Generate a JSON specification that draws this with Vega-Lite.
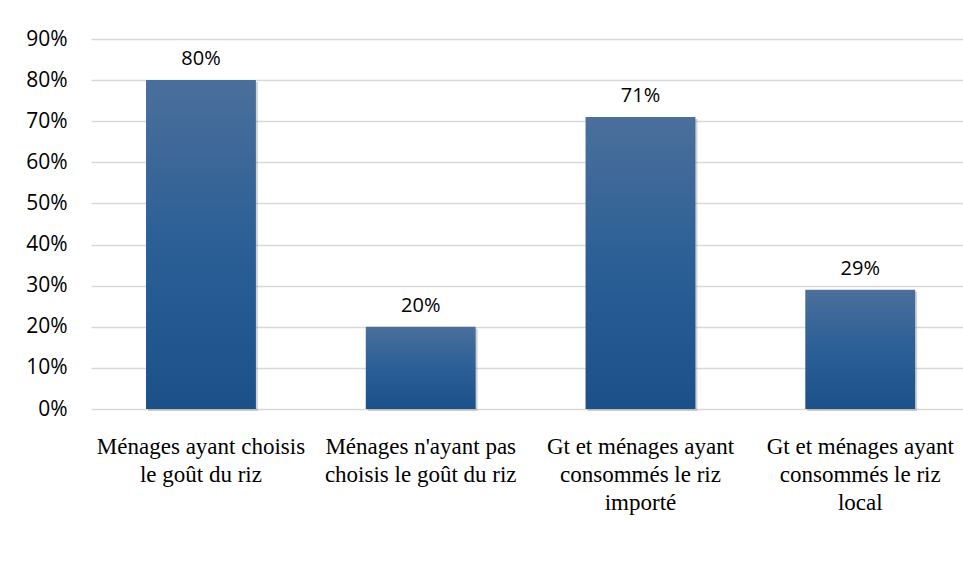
{
  "$schema": "https://vega.github.io/schema/vega-lite/v6.json",
  "autosize": "none",
  "width": 872,
  "height": 370,
  "padding": {"left": 91, "top": 39, "right": 0, "bottom": 169},
  "background": "white",
  "config": {"view": {"stroke": null}},
  "data": {
    "values": [
      {"categorie": "Ménages ayant choisis le goût du riz", "part": 0.80},
      {"categorie": "Ménages n'ayant pas choisis le goût du riz", "part": 0.20},
      {"categorie": "Gt et ménages ayant consommés le riz importé", "part": 0.71},
      {"categorie": "Gt et ménages ayant consommés le riz local", "part": 0.29}
    ]
  },
  "encoding": {
    "x": {
      "field": "categorie",
      "type": "nominal",
      "sort": null,
      "scale": {"paddingInner": 0.5, "paddingOuter": 0.234, "align": 0.535},
      "axis": {
        "title": null,
        "labelAngle": 0,
        "domain": false,
        "ticks": false,
        "labelFont": "Liberation Serif",
        "labelFontSize": 23,
        "labelColor": "#000000",
        "labelLineHeight": 28,
        "labelPadding": 26,
        "labelBaseline": "top",
        "labelLimit": 300,
        "labelExpr": "datum.value == 'Ménages ayant choisis le goût du riz' ? ['Ménages ayant choisis', 'le goût du riz'] : datum.value == \"Ménages n'ayant pas choisis le goût du riz\" ? [\"Ménages n'ayant pas\", 'choisis le goût du riz'] : datum.value == 'Gt et ménages ayant consommés le riz importé' ? ['Gt et ménages ayant', 'consommés le riz', 'importé'] : ['Gt et ménages ayant', 'consommés le riz', 'local']"
      }
    },
    "y": {
      "field": "part",
      "type": "quantitative",
      "scale": {"domain": [0, 0.9], "nice": false},
      "axis": {
        "title": null,
        "format": ".0%",
        "values": [0, 0.1, 0.2, 0.3, 0.4, 0.5, 0.6, 0.7, 0.8, 0.9],
        "domain": false,
        "ticks": false,
        "grid": true,
        "gridColor": "#d9d9d9",
        "gridWidth": 1.5,
        "labelFont": "Open Sans",
        "labelFontSize": 21,
        "labelColor": "#000000",
        "labelPadding": 24
      }
    }
  },
  "layer": [
    {
      "mark": {
        "type": "bar",
        "color": "#808080",
        "opacity": 0.35,
        "xOffset": 2,
        "yOffset": 2
      }
    },
    {
      "mark": {
        "type": "bar",
        "color": {
          "gradient": "linear",
          "x1": 0, "y1": 0, "x2": 0, "y2": 1,
          "stops": [
            {"offset": 0, "color": "#4b6f9b"},
            {"offset": 0.5, "color": "#2b5f96"},
            {"offset": 1, "color": "#1b5089"}
          ]
        }
      }
    },
    {
      "mark": {
        "type": "text",
        "baseline": "alphabetic",
        "dy": -15,
        "font": "Open Sans",
        "fontSize": 20,
        "color": "#000000"
      },
      "encoding": {
        "text": {"field": "part", "type": "quantitative", "format": ".0%"}
      }
    }
  ]
}
